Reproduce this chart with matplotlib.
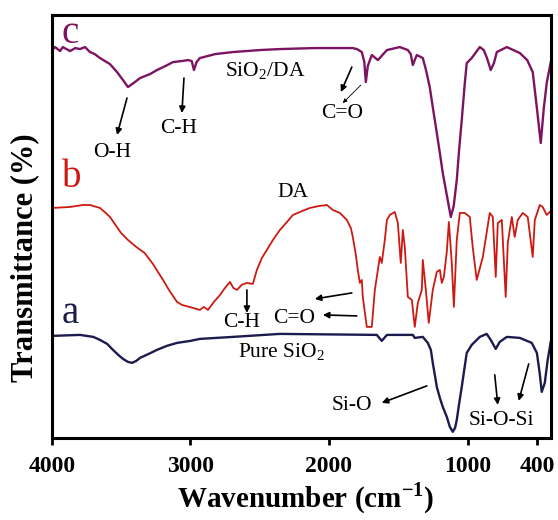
import matplotlib
matplotlib.use("Agg")
import matplotlib.pyplot as plt

plt.rcParams['font.family'] = 'Liberation Serif'
plt.rcParams['mathtext.fontset'] = 'custom'
plt.rcParams['mathtext.rm'] = 'Liberation Serif'
plt.rcParams['mathtext.bf'] = 'Liberation Serif:bold'

# FTIR spectra (wavenumber in cm-1, transmittance in a.u., offset per curve)
wn_c = [4000, 3975, 3940, 3920, 3868, 3830, 3796, 3760, 3724, 3690, 3652, 3580, 3529, 3486, 3450,
        3400, 3363, 3290, 3241, 3180, 3125, 3060, 3017, 2990, 2974, 2955, 2931, 2820, 2693, 2500,
        2354, 2100, 1828, 1799, 1763, 1745, 1734, 1720, 1691, 1647, 1582, 1489, 1431, 1410, 1395,
        1381, 1366, 1323, 1300, 1273, 1250, 1222, 1200, 1179, 1150, 1121, 1100, 1078, 1060, 1042,
        1020, 1006, 970, 912, 883, 860, 833, 810, 789, 717, 623, 570, 530, 500, 472, 450, 429, 400]
t_c = [388, 391, 387, 391, 387, 390, 389, 391, 386, 384, 380, 374, 366, 358, 351,
       356, 360, 364, 368, 372, 376, 377, 378, 377, 368, 376, 380, 384, 386, 388,
       389, 390, 390, 389, 386, 376, 356, 372, 383, 378, 388, 391, 388, 384, 373,
       378, 383, 380, 368, 351, 330, 305, 285, 265, 243, 221, 232, 258, 290, 318,
       355, 375, 380, 391, 388, 380, 368, 375, 386, 391, 385, 378, 366, 330, 295, 330, 355, 376]

wn_b = [4000, 3868, 3774, 3724, 3652, 3610, 3580, 3530, 3500, 3450, 3390, 3330, 3270, 3197, 3150,
        3096, 3060, 2981, 2931, 2902, 2873, 2830, 2786, 2750, 2714, 2690, 2664, 2630, 2592, 2549,
        2520, 2484, 2448, 2404, 2354, 2303, 2260, 2210, 2138, 2070, 2015, 1972, 1921, 1871, 1842,
        1828, 1806, 1792, 1777, 1763, 1756, 1727, 1691, 1669, 1633, 1619, 1597, 1582, 1561, 1525,
        1503, 1482, 1467, 1453, 1431, 1402, 1381, 1359, 1330, 1323, 1301, 1280, 1251, 1222, 1200,
        1186, 1171, 1150, 1135, 1114, 1099, 1078, 1056, 1020, 984, 963, 934, 890, 840, 818,
        797, 782, 753, 725, 710, 681, 660, 638, 602, 566, 530, 515, 479, 458, 429, 407]
t_b = [230, 231, 233, 233, 230, 225, 221, 211, 205, 198, 191, 185, 174, 158, 147,
       136, 133, 130, 128, 131, 128, 136, 143, 150, 156, 150, 148, 153, 155, 154,
       168, 180, 188, 198, 208, 216, 223, 226, 230, 232, 233, 228, 225, 218, 210,
       201, 183, 168, 155, 158, 141, 111, 111, 148, 181, 175, 198, 218, 223, 226,
       215, 175, 208, 191, 141, 138, 111, 135, 148, 178, 148, 115, 148, 166, 168,
       155, 161, 186, 216, 175, 131, 198, 225, 225, 221, 191, 158, 181, 225, 221,
       161, 215, 218, 141, 195, 221, 201, 218, 225, 221, 181, 218, 233, 231, 223, 226]

wn_a = [4000, 3796, 3700, 3652, 3600, 3558, 3520, 3486, 3450, 3421, 3390, 3363, 3300, 3241, 3170,
        3096, 3000, 2931, 2693, 2354, 1655, 1619, 1582, 1395, 1381, 1323, 1287, 1265, 1251, 1235,
        1222, 1200, 1179, 1150, 1128, 1107, 1090, 1078, 1060, 1042, 1020, 1006, 970, 912, 862,
        833, 797, 768, 717, 623, 537, 500, 480, 465, 443, 422, 400]
t_a = [102, 103, 101, 98, 94, 88, 83, 79, 76, 75, 77, 80, 84, 88, 92,
       95, 97, 99, 101, 104, 103, 97, 103, 103, 100, 101, 95, 88, 75, 62,
       51, 40, 31, 21, 11, 6, 10, 18, 35, 51, 72, 85, 93, 101, 104,
       98, 89, 96, 101, 100, 95, 85, 65, 46, 55, 78, 96]

tick_pos = [4000, 3000, 2000, 1000, 500]
tick_labels = ['4000', '3000', '2000', '1000', '400']

col_c = '#7d1461'
col_b = '#cc1a12'
col_a = '#1b1b4d'

fig = plt.figure(figsize=(5.58, 5.2), dpi=100)
ax = fig.add_axes([0.0927, 0.158, 0.8943, 0.813])

ax.plot(wn_c, t_c, color=col_c, lw=1.7)
ax.plot(wn_b, t_b, color=col_b, lw=1.3)
ax.plot(wn_a, t_a, color=col_a, lw=1.7)

ax.set_xlim(4000, 400)
ax.set_ylim(0, 423)
ax.set_xticks(tick_pos)
ax.set_xticklabels(tick_labels, fontsize=17, fontweight='bold')
ax.set_yticks([])
ax.tick_params(axis='x', direction='out', length=5, width=2, pad=8)
for s in ax.spines.values():
    s.set_linewidth(2.2)

# curve letters
ax.text(3926, 395, 'c', color=col_c, fontsize=28, ha='left', va='baseline')
ax.text(3926, 251, 'b', color=col_b, fontsize=28, ha='left', va='baseline')
ax.text(3926, 115, 'a', color=col_a, fontsize=28, ha='left', va='baseline')

fs = 15.5
ax.text(2462, 362, r'SiO$_{\mathrm{2}}$/DA', fontsize=fs, ha='center', va='baseline')
ax.text(3565, 281, 'O-H', fontsize=fs, ha='center', va='baseline')
ax.text(3082, 305, 'C-H', fontsize=fs, ha='center', va='baseline')
ax.text(1906, 320, 'C=O', fontsize=fs, ha='center', va='baseline')
ax.text(2260, 241, 'DA', fontsize=fs, ha='center', va='baseline')
ax.text(2628, 111, 'C-H', fontsize=fs, ha='center', va='baseline')
ax.text(2253, 115, 'C=O', fontsize=fs, ha='center', va='baseline')
ax.text(2340, 80, r'Pure SiO$_{\mathrm{2}}$', fontsize=fs, ha='center', va='baseline')
ax.text(1834, 28, 'Si-O', fontsize=fs, ha='center', va='baseline')
ax.text(753, 13, 'Si-O-Si', fontsize=fs, ha='center', va='baseline')

arrow = dict(arrowstyle='-|>', color='black', lw=1.2, mutation_scale=9, shrinkA=0, shrinkB=0)
thin = dict(arrowstyle='-|>', color='black', lw=0.6, mutation_scale=6, shrinkA=0, shrinkB=0)
arrows = [((3457, 340), (3529, 303)),
          ((3046, 360), (3061, 325)),
          ((1835, 371), (1914, 346)),
          ((2592, 148), (2592, 125)),
          ((1835, 145), (2102, 139)),
          ((1799, 122), (2044, 123)),
          ((1294, 52), (1619, 35)),
          ((804, 63), (782, 33)),
          ((559, 74), (631, 37))]
for tail, head in arrows:
    ax.annotate('', xy=head, xytext=tail, arrowprops=arrow)
ax.annotate('', xy=(1900, 335), xytext=(1770, 353), arrowprops=thin)

fig.text(306 / 558, 1 - 498 / 520, r'Wavenumber (cm$^{\mathbf{-1}}$)', fontsize=21,
         fontweight='bold', ha='center', va='center')
fig.text(25 / 558, 1 - 258 / 520, 'Transmittance (%)', fontsize=22, fontweight='bold',
         rotation=90, ha='center', va='center')

fig.savefig('out.png', dpi=100)
